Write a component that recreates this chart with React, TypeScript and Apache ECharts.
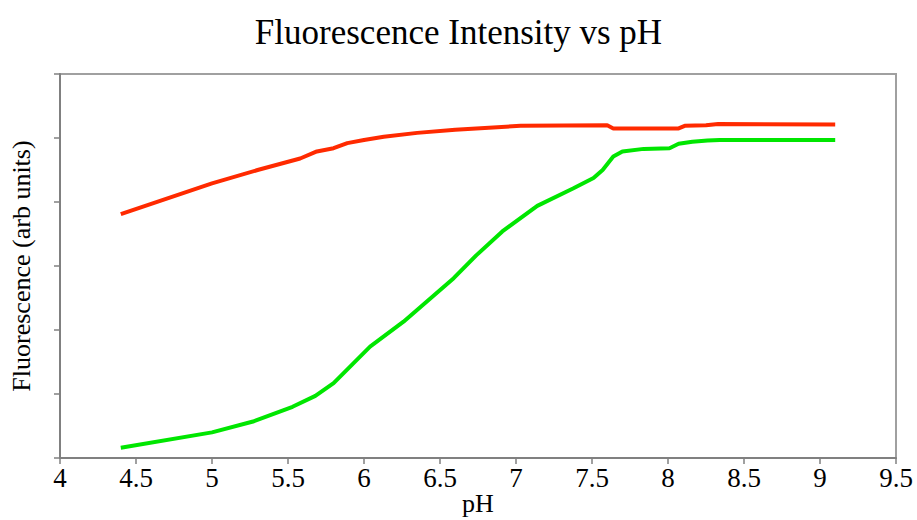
import React, { useEffect, useRef } from "react";
import * as echarts from "echarts";

const redPH = [4.4, 5.0, 5.3, 5.58, 5.69, 5.8, 5.89, 6.0, 6.13, 6.35, 6.6, 7.03, 7.6, 7.64, 8.07, 8.11, 8.25, 8.33, 9.1];
const redVals = [3.81, 4.29, 4.5, 4.68, 4.79, 4.84, 4.92, 4.97, 5.02, 5.08, 5.13, 5.19, 5.2, 5.15, 5.15, 5.19, 5.2, 5.22, 5.21];

const greenPH = [4.4, 5.0, 5.27, 5.53, 5.68, 5.8, 6.04, 6.26, 6.59, 6.74, 6.91, 7.14, 7.375, 7.51, 7.57, 7.64, 7.7, 7.84, 8.01, 8.07, 8.16, 8.26, 8.34, 9.1];
const greenVals = [0.16, 0.4, 0.57, 0.8, 0.97, 1.17, 1.74, 2.13, 2.81, 3.17, 3.54, 3.94, 4.21, 4.375, 4.5, 4.71, 4.79, 4.83, 4.84, 4.91, 4.94, 4.96, 4.97, 4.97];

const xTicks = [4, 4.5, 5, 5.5, 6, 6.5, 7, 7.5, 8, 8.5, 9, 9.5];

const FONT = "'Liberation Serif', 'DejaVu Serif', serif";

export default function App() {
  const ref = useRef<HTMLDivElement>(null);
  useEffect(() => {
    if (!ref.current) return;
    const chart = echarts.init(ref.current, undefined, { renderer: "svg" });
    const pair = (xs: number[], ys: number[]) => xs.map((x, i) => [x, ys[i]]);
    chart.setOption({
      animation: false,
      backgroundColor: "#ffffff",
      title: {
        text: "Fluorescence Intensity vs pH",
        left: "center",
        top: 10,
        textStyle: { fontFamily: FONT, fontSize: 35, fontWeight: "normal", color: "#000" },
      },
      grid: {
        left: 60,
        top: 74,
        right: 21,
        bottom: 62,
        containLabel: false,
        outerBoundsMode: "none",
        show: true,
        borderColor: "#a0a0a0",
        borderWidth: 2,
        backgroundColor: "transparent",
      },
      xAxis: {
        type: "value",
        min: xTicks[0],
        max: xTicks[xTicks.length - 1],
        interval: 0.5,
        name: "pH",
        nameLocation: "middle",
        nameGap: 32,
        nameMoveOverlap: false,
        nameTextStyle: { fontFamily: FONT, fontSize: 26, color: "#000", lineHeight: 26 },
        axisLine: { show: true, onZero: false, lineStyle: { color: "#808080", width: 2 } },
        axisTick: { show: true, length: 6, lineStyle: { color: "#808080", width: 1.5 } },
        axisLabel: { fontFamily: FONT, fontSize: 27, color: "#000", margin: 6 },
        splitLine: { show: false },
      },
      yAxis: {
        type: "value",
        min: 0,
        max: 6,
        interval: 1,
        name: "Fluorescence (arb units)",
        nameLocation: "middle",
        nameGap: 26,
        nameMoveOverlap: false,
        nameTextStyle: { fontFamily: FONT, fontSize: 26, color: "#000" },
        axisLine: { show: true, lineStyle: { color: "#808080", width: 2 } },
        axisTick: { show: true, length: 6, lineStyle: { color: "#808080", width: 1.5 } },
        axisLabel: { show: false },
        splitLine: { show: false },
      },
      series: [
        {
          type: "line",
          data: pair(redPH, redVals),
          showSymbol: false,
          symbol: "none",
          lineStyle: { color: "#ff2a00", width: 4 },
          itemStyle: { color: "#ff2a00" },
        },
        {
          type: "line",
          data: pair(greenPH, greenVals),
          showSymbol: false,
          symbol: "none",
          lineStyle: { color: "#00e600", width: 4 },
          itemStyle: { color: "#00e600" },
        },
      ],
    });
    return () => chart.dispose();
  }, []);
  return (
    <div
      ref={ref}
      style={{ position: "absolute", left: 0, top: 0, width: 917, height: 520 }}
    />
  );
}
